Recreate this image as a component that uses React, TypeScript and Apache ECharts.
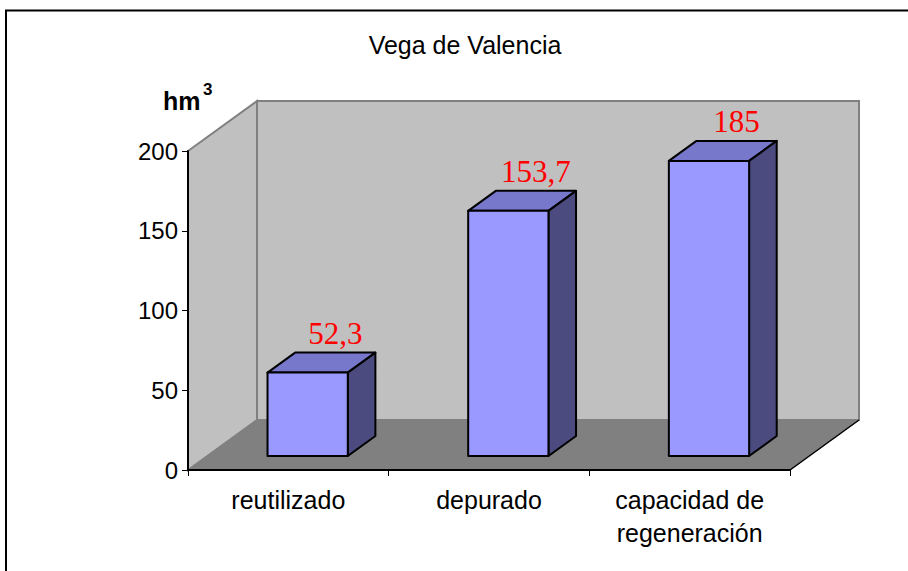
import React, { useEffect, useRef } from "react";
import * as echarts from "echarts";

const categories = ["reutilizado", "depurado", "capacidad de\nregeneración"];
const values = [52.3, 153.7, 185];
const yTicks = [0, 50, 100, 150, 200];
const titleText = "Vega de Valencia";
const unitText = "hm";
const unitSup = "3";

const DEPTH_X = 69;
const DEPTH_Y = -50;
const FRONT_F = 0.28;
const BACK_F = 0.68;
const BAR_W_F = 0.4;
const SANS = "'Liberation Sans', Arial, sans-serif";
const SERIF = "'Liberation Serif', 'Times New Roman', serif";

export default function App() {
  const ref = useRef<HTMLDivElement>(null);
  useEffect(() => {
    document.body.style.margin = "0";
    const chart = echarts.init(ref.current!, null, { renderer: "svg" });
    const option: any = {
      animation: false,
      backgroundColor: "#ffffff",
      grid: { left: 188, top: 151, right: 118, bottom: 101, containLabel: false },
      xAxis: {
        type: "category",
        data: categories,
        z: 10,
        axisLine: { show: true, lineStyle: { color: "#000", width: 2 } },
        axisTick: { show: true, length: 6, lineStyle: { color: "#000", width: 1 } },
        axisLabel: {
          color: "#000",
          fontFamily: SANS,
          fontSize: 25,
          lineHeight: 33,
          margin: 13,
          interval: 0,
        },
        splitLine: { show: false },
      },
      yAxis: {
        type: "value",
        min: yTicks[0],
        max: yTicks[yTicks.length - 1],
        interval: yTicks[1] - yTicks[0],
        z: 10,
        axisLine: { show: true, lineStyle: { color: "#000", width: 2 } },
        axisTick: { show: true, length: 6, lineStyle: { color: "#000", width: 1 } },
        axisLabel: { color: "#000", fontFamily: SANS, fontSize: 24, margin: 10 },
        splitLine: { show: false },
      },
      graphic: [
        {
          type: "rect",
          shape: { x: 6, y: 10.5, width: 1200, height: 1200 },
          style: { fill: "none", stroke: "#000", lineWidth: 2 },
          silent: true,
        },
        {
          type: "text",
          x: 465,
          y: 45,
          style: {
            text: titleText,
            fontFamily: SANS,
            fontSize: 25,
            fill: "#000",
            align: "center",
            verticalAlign: "middle",
          },
        },
        {
          type: "text",
          x: 163,
          y: 113,
          style: {
            text: unitText,
            fontFamily: SANS,
            fontWeight: "bold",
            fontSize: 25,
            fill: "#000",
            align: "left",
            verticalAlign: "bottom",
          },
        },
        {
          type: "text",
          x: 203,
          y: 81,
          style: {
            text: unitSup,
            fontFamily: SANS,
            fontWeight: "bold",
            fontSize: 17,
            fill: "#000",
            align: "left",
            verticalAlign: "top",
          },
        },
      ],
      series: [
        {
          type: "custom",
          z: 1,
          silent: true,
          data: [[0]],
          renderItem: (params: any) => {
            const cs = params.coordSys;
            const x = cs.x, y = cs.y, w = cs.width, h = cs.height;
            const dx = DEPTH_X, dy = DEPTH_Y;
            return {
              type: "group",
              children: [
                {
                  type: "polygon",
                  shape: { points: [[x, y], [x + dx, y + dy], [x + dx, y + h + dy], [x, y + h]] },
                  style: { fill: "#c0c0c0", stroke: "#808080", lineWidth: 2 },
                },
                {
                  type: "polygon",
                  shape: {
                    points: [
                      [x + dx, y + dy],
                      [x + w + dx, y + dy],
                      [x + w + dx, y + h + dy],
                      [x + dx, y + h + dy],
                    ],
                  },
                  style: { fill: "#c0c0c0", stroke: "#808080", lineWidth: 2 },
                },
                {
                  type: "polygon",
                  shape: {
                    points: [[x, y + h], [x + w, y + h], [x + w + dx, y + h + dy], [x + dx, y + h + dy]],
                  },
                  style: { fill: "#808080", stroke: "#808080", lineWidth: 1 },
                },
                {
                  type: "line",
                  shape: { x1: x + w, y1: y + h, x2: x + w + dx, y2: y + h + dy },
                  style: { stroke: "#000", lineWidth: 1.5 },
                },
              ],
            };
          },
        },
        {
          type: "custom",
          z: 3,
          data: values.map((v, i) => [i, v]),
          renderItem: (params: any, api: any) => {
            const idx = api.value(0);
            const val = api.value(1);
            const p0 = api.coord([idx, 0]);
            const p1 = api.coord([idx, val]);
            const bandW = api.size([1, 0])[0];
            const bw = bandW * BAR_W_F;
            const fx = DEPTH_X * FRONT_F, fy = DEPTH_Y * FRONT_F;
            const ddx = DEPTH_X * (BACK_F - FRONT_F), ddy = DEPTH_Y * (BACK_F - FRONT_F);
            const L = p0[0] - bw / 2 + fx;
            const R = p0[0] + bw / 2 + fx;
            const B = p0[1] + fy;
            const T = p1[1] + fy;
            const stroke = { stroke: "#000", lineWidth: 2, lineJoin: "round" };
            const label = String(values[params.dataIndex]).replace(".", ",");
            return {
              type: "group",
              children: [
                {
                  type: "polygon",
                  shape: { points: [[L, T], [R, T], [R + ddx, T + ddy], [L + ddx, T + ddy]] },
                  style: { fill: "#7777cc", ...stroke },
                },
                {
                  type: "polygon",
                  shape: { points: [[R, T], [R + ddx, T + ddy], [R + ddx, B + ddy], [R, B]] },
                  style: { fill: "#4b4b7f", ...stroke },
                },
                {
                  type: "rect",
                  shape: { x: L, y: T, width: R - L, height: B - T },
                  style: { fill: "#9999ff", ...stroke },
                },
                {
                  type: "text",
                  x: (L + R) / 2 + ddx,
                  y: T + ddy - 4,
                  style: {
                    text: label,
                    fontFamily: SERIF,
                    fontSize: 31,
                    fill: "#ff0000",
                    align: "center",
                    verticalAlign: "bottom",
                  },
                },
              ],
            };
          },
        },
      ],
    };
    chart.setOption(option);
    return () => chart.dispose();
  }, []);
  return <div ref={ref} style={{ width: 908, height: 571 }} />;
}
